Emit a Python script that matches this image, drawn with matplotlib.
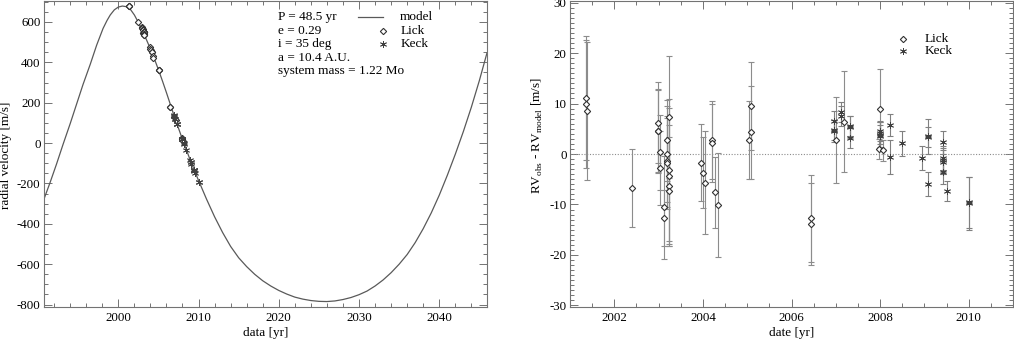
import numpy as np
import matplotlib
matplotlib.use("Agg")
import matplotlib.pyplot as plt
from matplotlib.ticker import MultipleLocator

plt.rcParams['font.family'] = 'serif'
plt.rcParams['font.serif'] = ['Liberation Serif', 'DejaVu Serif']
plt.rcParams['mathtext.fontset'] = 'custom'
plt.rcParams['mathtext.rm'] = 'Liberation Serif'
plt.rcParams['axes.unicode_minus'] = False

## orbit model (year, m/s)
model_yr = [1990.74, 1991.5, 1992.3, 1993.1, 1994.0, 1994.8, 1995.6, 1996.5, 1997.3, 1998.1,
            1998.6, 1999.0, 1999.5, 2000.0, 2000.5, 2001.0, 2001.5, 2002.0, 2002.5, 2003.0,
            2003.5, 2004.0, 2004.5, 2005.0, 2005.5, 2006.0, 2006.5, 2007.0, 2007.5, 2008.0,
            2008.5, 2009.0, 2009.5, 2010.0, 2011.0, 2012.0, 2013.0, 2014.0, 2015.0, 2016.0,
            2017.0, 2018.0, 2019.0, 2020.0, 2021.0, 2022.0, 2023.0, 2024.0, 2025.0, 2026.0,
            2027.0, 2028.0, 2029.0, 2030.0, 2031.0, 2032.0, 2033.0, 2034.0, 2035.0, 2036.0,
            2037.0, 2038.0, 2039.0, 2040.0, 2041.0, 2042.0, 2043.0, 2044.0, 2045.0, 2045.95]
model_rv = [-277, -195, -104, -8, 96, 193, 290, 390, 485, 568,
            608, 635, 660, 674, 679, 676, 663, 635, 598, 557,
            513, 467, 417, 364, 308, 250, 190, 130, 74, 18,
            -35, -88, -138, -185, -278, -365, -443, -512, -568, -612,
            -650, -682, -708, -730, -748, -763, -773, -780, -784, -785,
            -782, -775, -765, -751, -733, -708, -678, -642, -600, -552,
            -493, -424, -346, -258, -160, -55, 57, 178, 310, 447]

## Lick data
lick_date = [2001.36, 2001.36, 2001.38, 2002.41, 2002.98, 2002.98, 2002.99, 2003.04, 2003.04, 2003.13,
             2003.13, 2003.18, 2003.18, 2003.18, 2003.18, 2003.23, 2003.23, 2003.23, 2003.23, 2003.23,
             2003.95, 2004.00, 2004.04, 2004.20, 2004.20, 2004.27, 2004.35, 2005.05, 2005.09, 2005.09,
             2006.45, 2006.45, 2007.00, 2007.18, 2008.00, 2007.98, 2008.07]
lick_rv = [681, 680, 679, 598, 574, 571, 571, 563, 560, 545,
           543, 552, 549, 548, 548, 552, 541, 540, 538, 537,
           474, 467, 460, 452, 451, 432, 422, 362, 360, 364,
           180, 179, 128, 112, 25, 18, 10]
lick_res = [11.1, 9.9, 8.5, -6.7, 6.2, 4.6, 4.5, 0.3, -2.8, -10.5,
            -12.7, 2.7, 0.0, -1.4, -1.8, 7.4, -3.2, -4.4, -6.3, -7.4,
            -1.7, -3.7, -5.7, 2.7, 2.2, -7.6, -10.1, 2.7, 4.3, 9.5,
            -12.7, -13.9, 2.8, 6.4, 9.0, 1.0, 0.7]
lick_err = [12.3, 12.6, 13.6, 7.7, 8.0, 8.1, 8.3, 7.5, 7.3, 10.2,
            5.5, 8.0, 9.5, 9.0, 9.0, 12.1, 14.0, 13.5, 12.0, 10.8,
            7.7, 7.0, 10.2, 7.7, 7.7, 7.0, 10.3, 7.7, 9.2, 8.7,
            8.6, 8.1, 8.5, 10.0, 7.8, 2.0, 2.0]

## Keck data
keck_date = [2006.95, 2006.95, 2006.96, 2007.11, 2007.11, 2007.32, 2007.32, 2007.32, 2008.00, 2008.00,
             2007.99, 2008.00, 2008.22, 2008.22, 2008.49, 2008.94, 2009.08, 2009.08, 2009.08, 2009.43,
             2009.43, 2009.43, 2009.43, 2009.43, 2009.51, 2010.00, 2010.00]
keck_rv = [137, 135, 135, 120, 119, 96, 95, 93, 19, 19,
           19, 20, 1, -6, -32, -83, -93, -93, -102, -131,
           -134, -134, -135, -137, -148, -193, -193]
keck_res = [6.6, 4.8, 4.5, 8.3, 7.5, 5.5, 5.3, 3.1, 4.1, 3.8,
            3.5, 4.5, 5.7, -0.6, 2.1, -0.8, 3.5, 3.3, -6.0, 2.3,
            -0.8, -1.2, -1.6, -3.6, -7.4, -9.8, -9.6]
keck_err = [2.0, 2.0, 2.2, 2.0, 2.0, 2.0, 2.2, 2.0, 2.2, 2.5,
            2.3, 2.0, 2.2, 3.3, 2.4, 2.4, 3.5, 2.0, 2.4, 2.3,
            2.3, 2.3, 2.3, 2.3, 2.0, 5.2, 5.0]

params_txt = ['P = 48.5 yr', 'e = 0.29', 'i = 35 deg', 'a = 10.4 A.U.', 'system mass = 1.22 Mo']

fig = plt.figure(figsize=(10.14, 3.39), dpi=100)
ax1 = fig.add_axes([44/1014, 1 - 307/339, 443/1014, 306/339])
ax2 = fig.add_axes([570/1014, 1 - 307/339, 443/1014, 306/339])

frame = '0.45'
lick_kw = dict(marker='D', ms=3.2, mfc='white', mec='0.2', mew=0.8, ls='none')
keck_kw = dict(marker=(6, 2, 0), ms=5, mec='0.25', mew=0.6, ls='none')

# --- panel 1: radial velocity + model
ax1.plot(model_yr, model_rv, color='0.35', lw=0.9)
ax1.plot(lick_date, lick_rv, **lick_kw)
ax1.plot(keck_date, keck_rv, **keck_kw)
ax1.set_xlim(1990.74, 2045.95)
ax1.set_ylim(-812, 704)
ax1.xaxis.set_major_locator(MultipleLocator(10))
ax1.xaxis.set_minor_locator(MultipleLocator(2))
ax1.yaxis.set_major_locator(MultipleLocator(200))
ax1.yaxis.set_minor_locator(MultipleLocator(50))
ax1.set_xlabel('data [yr]', fontsize=9.5)
ax1.set_ylabel('radial velocity [m/s]', fontsize=9.5)
ax1.xaxis.set_label_coords(0.5, -0.066)
ax1.yaxis.set_label_coords(-0.073, 0.495)

ys = [0.948, 0.903, 0.860, 0.815, 0.770]
for s, y in zip(params_txt, ys):
    ax1.text(0.528, y, s, transform=ax1.transAxes, fontsize=9.5, va='center')
ax1.plot([0.709, 0.765], [0.948, 0.948], transform=ax1.transAxes, color='0.35', lw=0.9)
ax1.plot([0.765], [0.903], transform=ax1.transAxes, **lick_kw)
ax1.plot([0.765], [0.860], transform=ax1.transAxes, **keck_kw)
ax1.text(0.804, 0.948, 'model', transform=ax1.transAxes, fontsize=9.5, va='center')
ax1.text(0.804, 0.903, 'Lick', transform=ax1.transAxes, fontsize=9.5, va='center')
ax1.text(0.804, 0.860, 'Keck', transform=ax1.transAxes, fontsize=9.5, va='center')

# --- panel 2: residuals
ax2.axhline(0, color='0.55', lw=0.8, ls=(0, (1, 1.5)))
ax2.errorbar(lick_date, lick_res, yerr=lick_err, fmt='none', ecolor='0.55',
             elinewidth=0.8, capsize=2, capthick=0.8)
ax2.errorbar(keck_date, keck_res, yerr=keck_err, fmt='none', ecolor='0.5',
             elinewidth=0.8, capsize=2, capthick=0.8)
ax2.plot(lick_date, lick_res, **lick_kw)
ax2.plot(keck_date, keck_res, **keck_kw)
ax2.set_xlim(2001, 2011)
ax2.set_ylim(-30.3, 30.3)
ax2.xaxis.set_major_locator(MultipleLocator(2))
ax2.xaxis.set_minor_locator(MultipleLocator(0.5))
ax2.yaxis.set_major_locator(MultipleLocator(10))
ax2.yaxis.set_minor_locator(MultipleLocator(1))
ax2.set_xlabel('date [yr]', fontsize=9.5)
ax2.set_ylabel(r'RV$_{\rm obs}$ - RV$_{\rm model}$ [m/s]', fontsize=9.5)
ax2.xaxis.set_label_coords(0.5, -0.066)
ax2.yaxis.set_label_coords(-0.056, 0.56)

ax2.plot([0.751], [0.877], transform=ax2.transAxes, **lick_kw)
ax2.plot([0.751], [0.837], transform=ax2.transAxes, **keck_kw)
ax2.text(0.801, 0.877, 'Lick', transform=ax2.transAxes, fontsize=9.5, va='center')
ax2.text(0.801, 0.837, 'Keck', transform=ax2.transAxes, fontsize=9.5, va='center')

for ax in (ax1, ax2):
    for sp in ax.spines.values():
        sp.set_color(frame)
        sp.set_linewidth(0.8)
    ax.tick_params(which='both', direction='in', top=True, right=True,
                   color=frame, labelsize=9.3, width=0.7)
    ax.tick_params(which='major', length=6)
    ax.tick_params(which='minor', length=3)
    ax.tick_params(axis='x', pad=3.5)
    ax.tick_params(axis='y', pad=2.5)

fig.savefig('out.png', dpi=100)
